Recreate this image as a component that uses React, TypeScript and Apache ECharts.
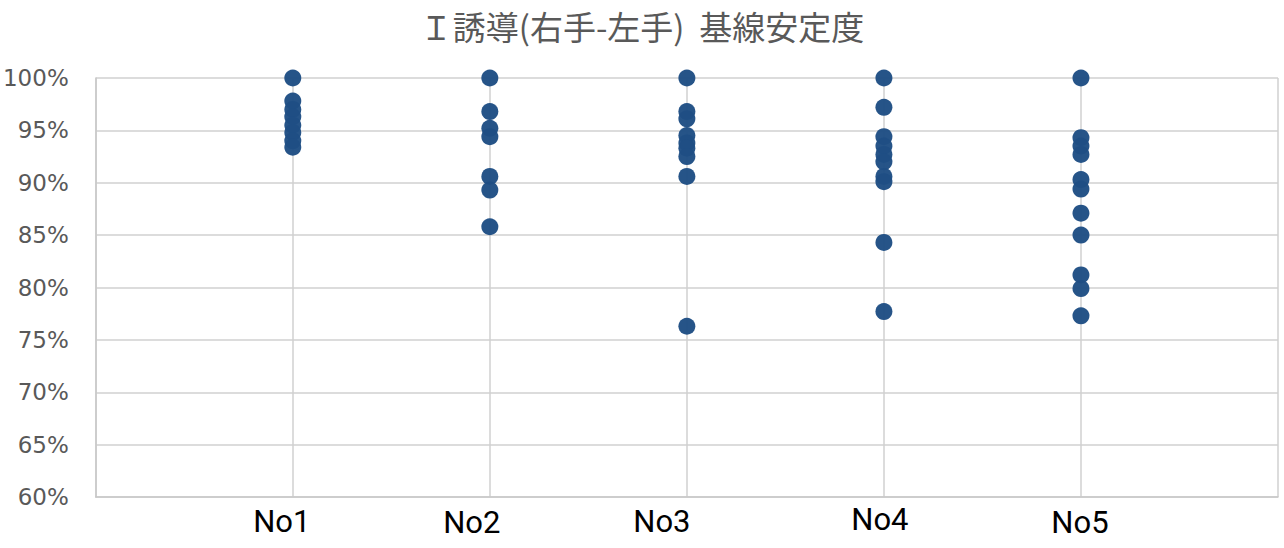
import React, { useEffect, useRef } from "react";
import * as echarts from "echarts";

const titleText = "Ｉ誘導(右手-左手)  基線安定度";
const categories = ["No1", "No2", "No3", "No4", "No5"];
const no1 = [100, 97.8, 97.0, 96.3, 95.5, 94.8, 94.0, 93.4];
const no2 = [100, 96.8, 95.2, 94.4, 90.6, 89.3, 85.8];
const no3 = [100, 96.8, 96.1, 94.5, 93.8, 93.3, 92.5, 90.6, 76.3];
const no4 = [100, 97.2, 94.4, 93.5, 92.7, 92.0, 90.6, 90.1, 84.3, 77.7];
const no5 = [100, 94.3, 93.5, 92.7, 90.3, 89.4, 87.1, 85.0, 81.2, 79.9, 77.3];
const seriesValues = [no1, no2, no3, no4, no5];
const yTicks = [60, 65, 70, 75, 80, 85, 90, 95, 100];

export default function App() {
  const ref = useRef<HTMLDivElement>(null);
  useEffect(() => {
    if (!ref.current) return;
    const chart = echarts.init(ref.current, null, { renderer: "svg" });
    const points: number[][] = [];
    seriesValues.forEach((vals, i) => {
      vals.forEach((v) => points.push([i + 1, v]));
    });
    // label placement offsets: [top padding, right padding]
    const labelPads = [
      [17, 22],
      [20, 36],
      [17, 50],
      [14, 8],
      [20, 2],
    ];
    const rich: Record<string, any> = {};
    labelPads.forEach((p, i) => {
      rich["c" + i] = {
        fontSize: 31,
        lineHeight: 31,
        color: "#000000",
        fontFamily: "Liberation Sans Narrow, Roboto, sans-serif",
        padding: [p[0], p[1], 0, 0],
      };
    });
    chart.setOption({
      animation: false,
      backgroundColor: "#ffffff",
      title: {
        text: titleText,
        left: "center",
        top: 4,
        textStyle: {
          fontSize: 33,
          fontWeight: "normal",
          color: "#595959",
          fontFamily: "Noto Sans CJK JP, sans-serif",
        },
      },
      grid: { left: 95, right: 6, top: 78, bottom: 51, containLabel: false },
      xAxis: {
        type: "value",
        min: 0,
        max: 6,
        interval: 1,
        axisLine: { show: true, lineStyle: { color: "#c8c8c8", width: 1.5 } },
        axisTick: { show: false },
        splitLine: { show: true, lineStyle: { color: "#d0d0d0", width: 1.5 } },
        axisLabel: {
          margin: 0,
          formatter: (v: number) => {
            const i = Math.round(v) - 1;
            if (i < 0 || i >= categories.length) return "";
            return "{c" + i + "|" + categories[i] + "}";
          },
          rich,
        },
      },
      yAxis: {
        type: "value",
        min: yTicks[0],
        max: yTicks[yTicks.length - 1],
        interval: 5,
        axisLine: { show: true, lineStyle: { color: "#c8c8c8", width: 1.5 } },
        axisTick: { show: false },
        splitLine: { show: true, lineStyle: { color: "#d0d0d0", width: 1.5 } },
        axisLabel: {
          margin: 27,
          fontSize: 23,
          color: "#595959",
          fontFamily: "DejaVu Sans, sans-serif",
          formatter: (v: number) => v + "%",
        },
      },
      series: [
        {
          type: "scatter",
          data: points,
          symbol: "circle",
          symbolSize: 17,
          itemStyle: { color: "#1f4e84", opacity: 0.97 },
        },
      ],
    });
    return () => chart.dispose();
  }, []);
  return (
    <div
      ref={ref}
      style={{ position: "fixed", left: 0, top: 0, width: 1284, height: 548 }}
    />
  );
}
